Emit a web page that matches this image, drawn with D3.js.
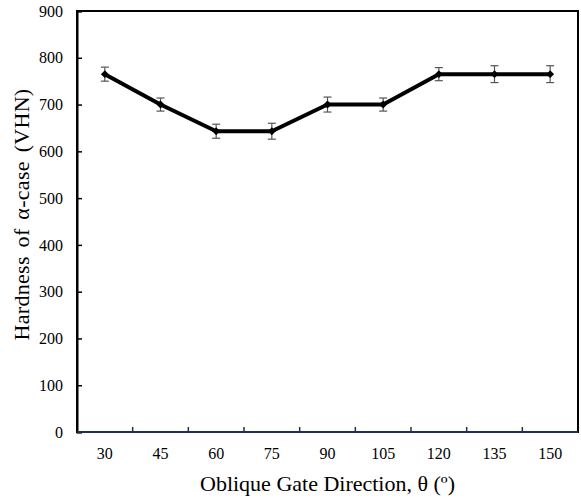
<!DOCTYPE html>
<html>
<head>
<meta charset="utf-8">
<script src="https://cdn.jsdelivr.net/npm/d3@7"></script>
<style>
  body { margin: 0; background: #fff; }
  text { font-family: "Liberation Serif", "Times New Roman", serif; fill: #000; }
</style>
</head>
<body>
<script>
let w = 581;
let h = 499;

let categories = ["30", "45", "60", "75", "90", "105", "120", "135", "150"];
let hardness = [765, 700, 643, 643, 700, 700, 765, 765, 765];
let errors = [15, 14, 15, 17, 16, 14, 14, 18, 18];
let yTicks = [0, 100, 200, 300, 400, 500, 600, 700, 800, 900];

let pLeft = 77, pRight = 578, pTop = 11, pBottom = 432;

let svg = d3.select("body").append("svg").attr("width", w).attr("height", h);

let x = d3.scaleBand().domain(categories).range([pLeft, pRight]);
let y = d3.scaleLinear().domain([0, 900]).range([pBottom, pTop]);

// frame
svg.append("rect")
  .attr("x", pLeft).attr("y", pTop)
  .attr("width", pRight - pLeft).attr("height", pBottom - pTop)
  .attr("fill", "none").attr("stroke", "#000").attr("stroke-width", 2);

// y axis ticks (inside)
let yAxis = svg.append("g").attr("transform", `translate(${pLeft},0)`)
  .call(d3.axisLeft(y).tickValues(yTicks).tickSize(-5).tickPadding(14));
yAxis.select(".domain").attr("stroke", "#000").attr("stroke-width", 2);
yAxis.selectAll(".tick line").attr("stroke", "#000").attr("stroke-width", 1.5);
yAxis.selectAll(".tick text").attr("font-size", 16)
  .attr("font-family", "Liberation Serif");

// x axis
let xAxis = svg.append("g").attr("transform", `translate(0,${pBottom})`)
  .call(d3.axisBottom(x).tickSize(0).tickPadding(16));
xAxis.select(".domain").remove();
xAxis.selectAll(".tick text").attr("font-size", 16)
  .attr("font-family", "Liberation Serif");

svg.append("line")
  .attr("x1", pLeft).attr("x2", pRight).attr("y1", pBottom).attr("y2", pBottom)
  .attr("stroke", "#1f2f5a").attr("stroke-width", 2);

// category boundary ticks pointing up
svg.selectAll("line.xtick")
  .data(categories.slice(1))
  .enter()
  .append("line")
  .attr("class", "xtick")
  .attr("x1", (d) => x(d)).attr("x2", (d) => x(d))
  .attr("y1", pBottom).attr("y2", pBottom - 5)
  .attr("stroke", "#1f2f5a").attr("stroke-width", 1.5);

let cx = (d, i) => x(categories[i]) + x.bandwidth() / 2;

// error bars
let eb = svg.append("g");
hardness.forEach((v, i) => {
  let xc = x(categories[i]) + x.bandwidth() / 2;
  eb.append("line")
    .attr("x1", xc).attr("x2", xc)
    .attr("y1", y(v + errors[i])).attr("y2", y(v - errors[i]))
    .attr("stroke", "#555").attr("stroke-width", 1.2);
  [v + errors[i], v - errors[i]].forEach((e) => {
    eb.append("line")
      .attr("x1", xc - 4).attr("x2", xc + 4)
      .attr("y1", y(e)).attr("y2", y(e))
      .attr("stroke", "#555").attr("stroke-width", 1.2);
  });
});

// line
let line = d3.line().x(cx).y((d) => y(d));
svg.append("path")
  .datum(hardness)
  .attr("d", line)
  .attr("fill", "none")
  .attr("stroke", "#000")
  .attr("stroke-width", 4)
  .attr("stroke-linejoin", "round");

// diamond markers
svg.selectAll("path.marker")
  .data(hardness)
  .enter()
  .append("path")
  .attr("class", "marker")
  .attr("d", d3.symbol(d3.symbolDiamond2, 40))
  .attr("transform", (d, i) => `translate(${cx(d, i)},${y(d)})`)
  .attr("fill", "#000");

// axis titles
svg.append("text")
  .attr("x", (pLeft + pRight) / 2).attr("y", 491)
  .attr("text-anchor", "middle")
  .attr("font-size", 22)
  .text("Oblique Gate Direction, θ (º)");

svg.append("text")
  .attr("transform", `translate(29,${(pTop + pBottom) / 2 - 7}) rotate(-90)`)
  .attr("text-anchor", "middle")
  .attr("font-size", 22)
  .attr("letter-spacing", 0.3)
  .attr("word-spacing", 3)
  .text("Hardness of α-case (VHN)");
</script>
</body>
</html>
